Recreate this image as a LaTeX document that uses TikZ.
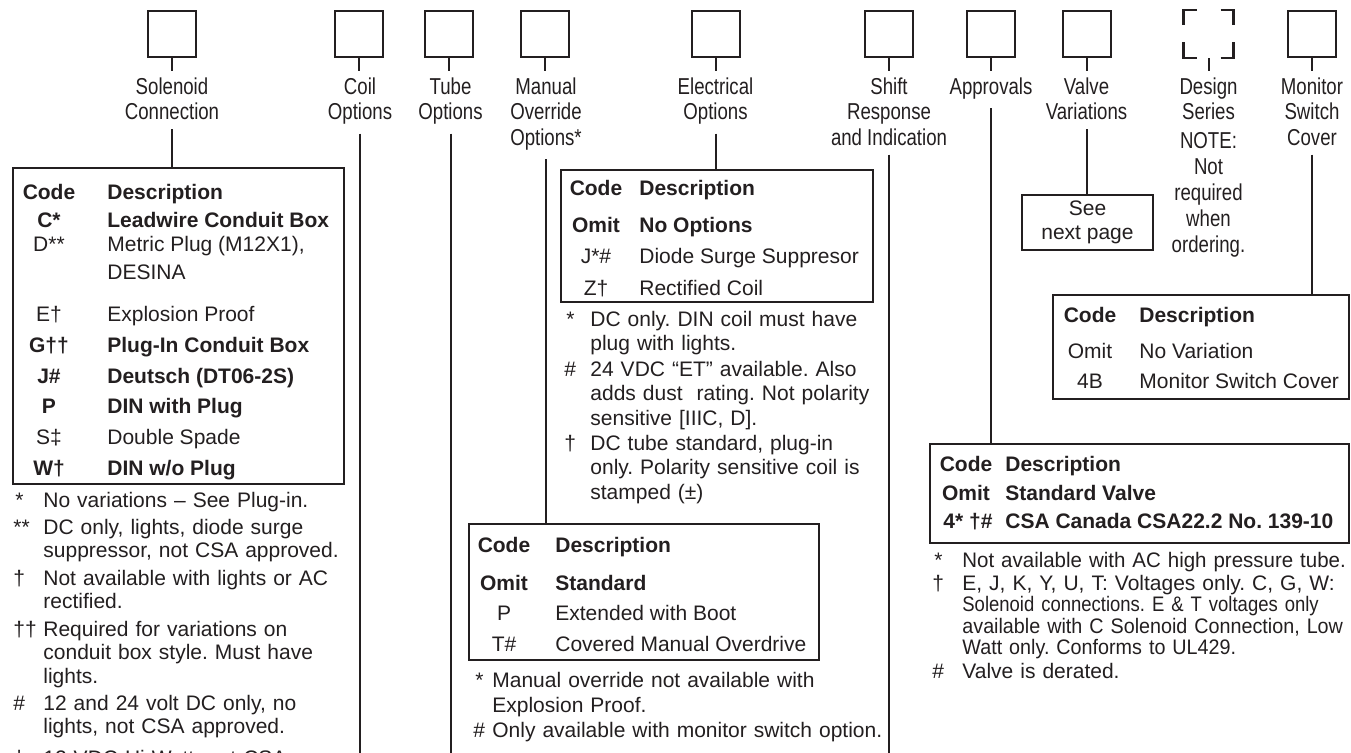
\documentclass[tikz,border=0pt]{standalone}
\usepackage{fontspec}
\setmainfont{Liberation Sans}
\newfontfamily\condfont[FakeStretch=0.81]{Liberation Sans}
\newfontfamily\notenear[FakeStretch=0.975]{Liberation Sans}
\newfontfamily\notetight[FakeStretch=0.94]{Liberation Sans}
\newfontfamily\notetighter[FakeStretch=0.88]{Liberation Sans}
\usetikzlibrary{positioning}
\definecolor{InkGray}{RGB}{35,31,32}
\frenchspacing

\tikzset{
  optbox/.style={draw=InkGray, line width=1pt, minimum width=24pt, minimum height=23pt, inner sep=0pt},
  optlabel/.style={font=\condfont\fontsize{11.5}{12.75}\selectfont, text=InkGray, align=center, anchor=north, inner sep=0pt},
  codetab/.style={draw=InkGray, line width=1pt, anchor=north west, inner sep=0pt},
  codetxt/.style={font=\fontsize{10.5}{12}\selectfont, text=InkGray, anchor=base, inner sep=0pt},
  desctxt/.style={font=\fontsize{10.5}{12}\selectfont, text=InkGray, anchor=base west, inner sep=0pt},
  boldrow/.style={font=\fontsize{10.5}{12}\selectfont\bfseries},
  notetxt/.style={font=\fontsize{10.5}{#1}\selectfont, text=InkGray, anchor=base west, inner sep=0pt, align=left},
  notetxt/.default=12pt,
  link/.style={draw=InkGray, line width=1pt},
}

\begin{document}
\begin{tikzpicture}[x=0.5pt, y=-0.5pt]

  \fill[white] (0,0) rectangle (1351,752);
  \useasboundingbox (0,0) rectangle (1351,752);
  \coordinate (bot) at (0,760);

  % ordering boxes
  \node[optbox] (sol) at (172,34) {};
  \node[optbox] (coil) at (359,34) {};
  \node[optbox] (tube) at (449,34) {};
  \node[optbox] (man) at (545,34) {};
  \node[optbox] (elec) at (715.5,34) {};
  \node[optbox] (shift) at (889,34) {};
  \node[optbox] (appr) at (991,34) {};
  \node[optbox] (valve) at (1086.5,34) {};
  \node[optbox, draw=none] (des) at (1208.5,34) {};
  \node[optbox] (mon) at (1311.5,34) {};

  % corner marks of the design series box
  \draw[link, line width=1.3pt] ([xshift=6.5pt]des.north west) -- (des.north west) -- ([yshift=-7.5pt]des.north west);
  \draw[link, line width=1.3pt] ([xshift=-6.5pt]des.north east) -- (des.north east) -- ([yshift=-7.5pt]des.north east);
  \draw[link, line width=1.3pt] ([xshift=6.5pt]des.south west) -- (des.south west) -- ([yshift=8pt]des.south west);
  \draw[link, line width=1.3pt] ([xshift=-6.5pt]des.south east) -- (des.south east) -- ([yshift=8pt]des.south east);

  % labels
  \node[optlabel] (lsol) at (172,77) {Solenoid\\Connection};
  \node[optlabel] (lcoil) at (360,77) {Coil\\Options};
  \node[optlabel] (ltube) at (450.5,77) {Tube\\Options};
  \node[optlabel] (lman) at (546,77) {Manual\\Override\\Options*};
  \node[optlabel] (lelec) at (715.5,77) {Electrical\\Options};
  \node[optlabel] (lshift) at (889,77) {Shift\\Response\\and Indication};
  \node[optlabel] (lappr) at (991,77) {Approvals};
  \node[optlabel] (lvalve) at (1086.5,77) {Valve\\Variations};
  \node[optlabel] (ldes) at (1208.5,77) {Design\\Series};
  \node[optlabel, font=\condfont\fontsize{11.5}{13}\selectfont] (ldesN) at (1208.5,132) {NOTE:\\Not\\required\\when\\ordering.};
  \node[optlabel] (lmon) at (1312,77) {Monitor\\Switch\\Cover};

  % ticks under the boxes
  \draw[link, shorten >=3.2pt] (sol.south) -- (sol.south |- lsol.north);
  \draw[link, shorten >=3.2pt] (coil.south) -- (coil.south |- lcoil.north);
  \draw[link, shorten >=3.2pt] (tube.south) -- (tube.south |- ltube.north);
  \draw[link, shorten >=3.2pt] (man.south) -- (man.south |- lman.north);
  \draw[link, shorten >=3.2pt] (elec.south) -- (elec.south |- lelec.north);
  \draw[link, shorten >=3.2pt] (shift.south) -- (shift.south |- lshift.north);
  \draw[link, shorten >=3.2pt] (appr.south) -- (appr.south |- lappr.north);
  \draw[link, shorten >=3.2pt] (valve.south) -- (valve.south |- lvalve.north);
  \draw[link, shorten >=3.2pt] (des.south) -- (des.south |- ldes.north);
  \draw[link, shorten >=3.2pt] (mon.south) -- (mon.south |- lmon.north);

  % code tables
  \node[codetab, minimum width=165.5pt, minimum height=158pt] (solT) at (12,167) {};
  \node[codetab, minimum width=156pt, minimum height=66pt] (elecT) at (560,169) {};
  \node[codetab, minimum width=175pt, minimum height=68pt] (manT) at (468,523) {};
  \node[codetab, minimum width=148pt, minimum height=52pt] (monT) at (1052,294) {};
  \node[codetab, minimum width=209.5pt, minimum height=49.5pt] (apprT) at (929,443) {};
  \node[draw=InkGray, line width=1pt, minimum width=65.5pt, minimum height=27.5pt, inner sep=0pt,
        align=center, text=InkGray, font=\fontsize{10.5}{12}\selectfont] (see) at (1087.5,222.5) {See\\next page};

  % connectors down from the labels
  \draw[link] ([yshift=-4.5pt]lsol.south) -- (lsol.south |- solT.north);
  \draw[link] ([yshift=-4.5pt]lcoil.south) -- (lcoil.south |- bot);
  \draw[link] ([yshift=-4.5pt]ltube.south) -- (ltube.south |- bot);
  \draw[link] ([yshift=-4.5pt]lman.south) -- (lman.south |- manT.north);
  \draw[link] ([yshift=-4.5pt]lelec.south) -- (lelec.south |- elecT.north);
  \draw[link] ([yshift=-4.5pt]lshift.south) -- (lshift.south |- bot);
  \draw[link] ([yshift=-4.5pt]lappr.south) -- (lappr.south |- apprT.north);
  \draw[link] ([yshift=-4.5pt]lvalve.south) -- (lvalve.south |- see.north);
  \draw[link] ([yshift=-4.5pt]lmon.south) -- (lmon.south |- monT.north);

  % solenoid connection
  \node[codetxt, boldrow] (solC0) at (49,199) {Code};
  \node[desctxt, boldrow] (solD0) at (107,199) {Description};
  \node[codetxt, boldrow] (solC1) at (49,227) {C*};
  \node[desctxt, boldrow] (solD1) at (107,227) {Leadwire Conduit Box};
  \node[codetxt] (solC2) at (49,251) {D**};
  \node[desctxt] (solD2) at (107,251) {Metric Plug (M12X1),};
  \node[desctxt] (solD2b) at (107,279) {DESINA};
  \node[codetxt] (solC3) at (49,321) {E†};
  \node[desctxt] (solD3) at (107,321) {Explosion Proof};
  \node[codetxt, boldrow] (solC4) at (49,352) {G††};
  \node[desctxt, boldrow] (solD4) at (107,352) {Plug-In Conduit Box};
  \node[codetxt, boldrow] (solC5) at (49,383) {J\#};
  \node[desctxt, boldrow] (solD5) at (107,383) {Deutsch (DT06-2S)};
  \node[codetxt, boldrow] (solC6) at (49,413) {P};
  \node[desctxt, boldrow] (solD6) at (107,413) {DIN with Plug};
  \node[codetxt] (solC7) at (49,444) {S‡};
  \node[desctxt] (solD7) at (107,444) {Double Spade};
  \node[codetxt, boldrow] (solC8) at (49,475) {W†};
  \node[desctxt, boldrow] (solD8) at (107,475) {DIN w/o Plug};

  \node[desctxt] (solM1) at (15,507) {*};
  \node[notetxt=11.75pt, text width=155pt] (solN1) at (43,507) {No variations – See Plug-in.};
  \node[desctxt] (solM2) at (13,534) {**};
  \node[notetxt=11.75pt, text width=155pt] (solN2) at (43,534) {DC only, lights, diode surge\\suppressor, not CSA approved.};
  \node[desctxt] (solM3) at (13,585) {†};
  \node[notetxt=11.75pt, text width=155pt] (solN3) at (43,585) {Not available with lights or AC\\rectified.};
  \node[desctxt] (solM4) at (13,636) {††};
  \node[notetxt=11.75pt, text width=155pt] (solN4) at (43,636) {Required for variations on\\conduit box style. Must have\\lights.};
  \node[desctxt] (solM5) at (13,710) {\#};
  \node[notetxt=11.75pt, text width=155pt] (solN5) at (43,710) {12 and 24 volt DC only, no\\lights, not CSA approved.};
  \node[desctxt] (solM6) at (13,765) {‡};
  \node[notetxt=11.75pt, text width=155pt] (solN6) at (43,765) {12 VDC Hi Watt, not CSA};

  % electrical options
  \node[codetxt, boldrow] (elecC0) at (596,195) {Code};
  \node[desctxt, boldrow] (elecD0) at (639,195) {Description};
  \node[codetxt, boldrow] (elecC1) at (596,232) {Omit};
  \node[desctxt, boldrow] (elecD1) at (639,232) {No Options};
  \node[codetxt] (elecC2) at (596,263) {J*\#};
  \node[desctxt] (elecD2) at (639,263) {Diode Surge Suppresor};
  \node[codetxt] (elecC3) at (596,295) {Z†};
  \node[desctxt] (elecD3) at (639,295) {Rectified Coil};

  \node[desctxt] (elecM1) at (566,326) {*};
  \node[notetxt=12.25pt, text width=142pt] (elecN1) at (590,326) {DC only. DIN coil must have\\plug with lights.};
  \node[desctxt] (elecM2) at (564,376) {\#};
  \node[notetxt=12.25pt, text width=142pt] (elecN2) at (590,376) {24 VDC “ET” available. Also\\adds dust\ \ rating. Not polarity\\sensitive [IIIC, D].};
  \node[desctxt] (elecM3) at (564,450) {†};
  \node[notetxt=12.25pt, text width=142pt] (elecN3) at (590,450) {DC tube standard, plug-in\\only. Polarity sensitive coil is\\stamped (±)};

  % manual override options
  \node[codetxt, boldrow] (manC0) at (504,552) {Code};
  \node[desctxt, boldrow] (manD0) at (555,552) {Description};
  \node[codetxt, boldrow] (manC1) at (504,590) {Omit};
  \node[desctxt, boldrow] (manD1) at (555,590) {Standard};
  \node[codetxt] (manC2) at (504,620) {P};
  \node[desctxt] (manD2) at (555,620) {Extended with Boot};
  \node[codetxt] (manC3) at (504,651) {T\#};
  \node[desctxt] (manD3) at (555,651) {Covered Manual Overdrive};

  \node[desctxt] (manM1) at (475,687) {*};
  \node[notetxt=12.5pt, text width=194pt] (manN1) at (492,687) {Manual override not available with\\Explosion Proof.};
  \node[desctxt] (manM2) at (473,737) {\#};
  \node[notetxt=12.5pt, text width=194pt] (manN2) at (492,737) {\mbox{Only available with monitor switch option.}};

  % monitor switch cover
  \node[codetxt, boldrow] (monC0) at (1090,322) {Code};
  \node[desctxt, boldrow] (monD0) at (1139,322) {Description};
  \node[codetxt] (monC1) at (1090,358) {Omit};
  \node[desctxt] (monD1) at (1139,358) {No Variation};
  \node[codetxt] (monC2) at (1090,388) {4B};
  \node[desctxt] (monD2) at (1139,388) {Monitor Switch Cover};

  % approvals
  \node[codetxt, boldrow] (apprC0) at (966,471) {Code};
  \node[desctxt, boldrow] (apprD0) at (1005,471) {Description};
  \node[codetxt, boldrow] (apprC1) at (966,500) {Omit};
  \node[desctxt, boldrow] (apprD1) at (1005,500) {Standard Valve};
  \node[codetxt, boldrow] (apprC2) at (968,528) {4* †\#};
  \node[desctxt, boldrow] (apprD2) at (1005,528) {CSA Canada CSA22.2 No. 139-10};

  \node[desctxt] (apprM1) at (934,567) {*};
  \node[notetxt=10.75pt, text width=190pt] (apprN1) at (962,567) {\mbox{\notenear Not available with AC high pressure tube.}};
  \node[desctxt] (apprM2) at (932,590) {†};
  \node[notetxt=10.75pt, text width=190pt] (apprN2) at (962,590) {\mbox{E, J, K, Y, U, T: Voltages only. C, G, W:}\\\mbox{\notetighter Solenoid connections. E \& T voltages only}\\\mbox{\notetight available with C Solenoid Connection, Low}\\\mbox{\notetight Watt only. Conforms to UL429.}};
  \node[desctxt] (apprM3) at (932,678) {\#};
  \node[notetxt=10.75pt, text width=190pt] (apprN3) at (962,678) {Valve is derated.};

\end{tikzpicture}
\end{document}
